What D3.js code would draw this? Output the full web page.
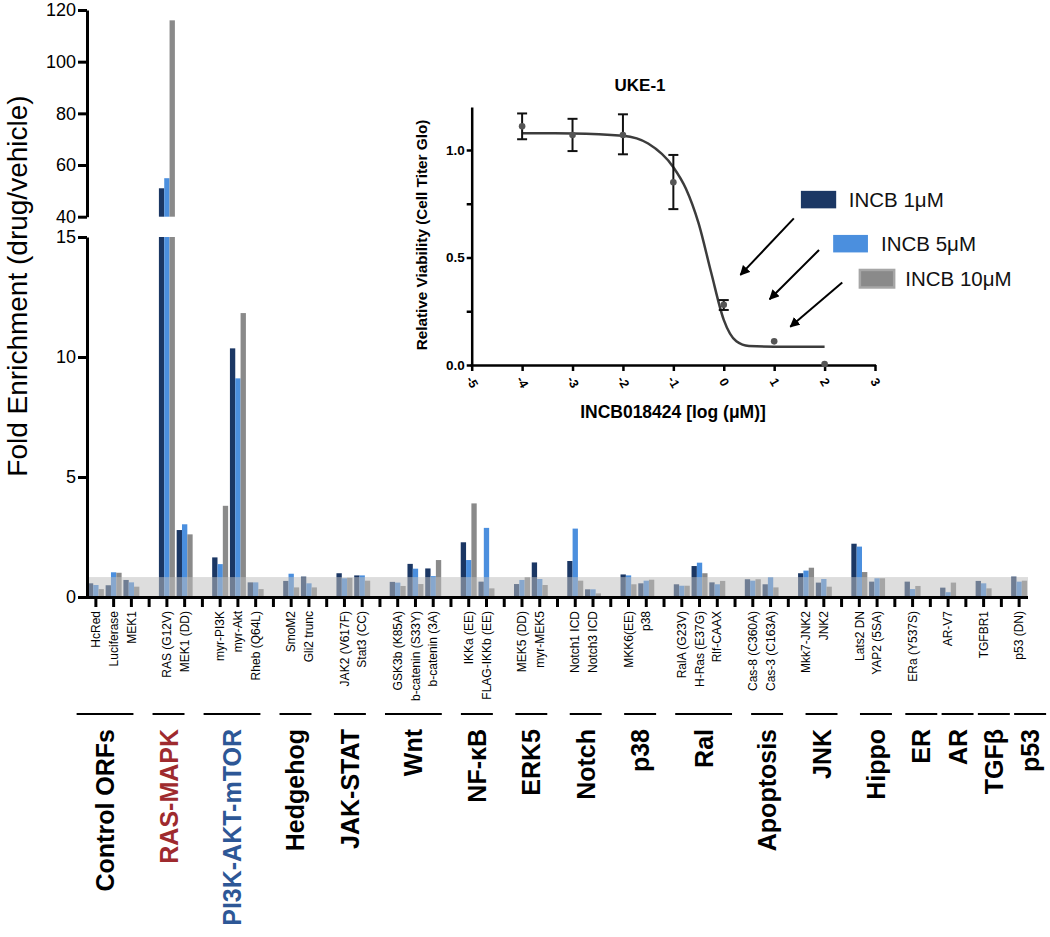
<!DOCTYPE html>
<html>
<head>
<meta charset="utf-8">
<script src="https://cdn.jsdelivr.net/npm/d3@7"></script>
<style>
  html, body { margin: 0; padding: 0; background: #fff; }
  svg { display: block; font-family: "Liberation Sans", Arial, Helvetica, sans-serif; }
</style>
</head>
<body>
<svg id="chart" width="1050" height="937"></svg>
<script>
// ---------------- DATA ----------------
const orfs = ["HcRed","Luciferase","MEK1","RAS (G12V)","MEK1 (DD)","myr-PI3K","myr-Akt","Rheb (Q64L)",
  "SmoM2","Gli2 trunc","JAK2 (V617F)","Stat3 (CC)","GSK3b (K85A)","b-catenin (S33Y)","b-catenin (3A)",
  "IKKa (EE)","FLAG-IKKb (EE)","MEK5 (DD)","myr-MEK5","Notch1 ICD","Notch3 ICD","MKK6(EE)","p38",
  "RalA (G23V)","H-Ras (E37G)","Rlf-CAAX","Cas-8 (C360A)","Cas-3 (C163A)","Mkk7-JNK2","JNK2",
  "Lats2 DN","YAP2 (5SA)","ERa (Y537S)","AR-V7","TGFBR1","p53 (DN)"];
const pathways = ["Control ORFs","RAS-MAPK","PI3K-AKT-mTOR","Hedgehog","JAK-STAT","Wnt","NF-κB","ERK5",
  "Notch","p38","Ral","Apoptosis","JNK","Hippo","ER","AR","TGFβ","p53"];
const pathwaySizes = [3,2,3,2,2,3,2,2,2,2,3,2,2,2,1,1,1,1];
const pathwayColors = {"RAS-MAPK":"#9e2a2e","PI3K-AKT-mTOR":"#2d5796"};

const seriesNames = ["INCB 1μM","INCB 5μM","INCB 10μM"];
const inc1  = [0.57,0.49,0.71, 51.0,2.79, 1.65,10.36,0.61, 0.67,0.85, 0.99,0.90, 0.63,1.38,1.19,
  2.28,0.64, 0.54,1.44, 1.50,0.32, 0.94,0.57, 0.53,1.29,0.61, 0.74,0.53, 0.99,0.60, 2.22,0.64, 0.64, 0.39, 0.67, 0.85];
const inc5  = [0.50,1.03,0.61, 54.9,3.03, 1.37,9.11,0.61, 0.97,0.57, 0.78,0.90, 0.60,1.18,0.87,
  1.54,2.88, 0.71,0.75, 2.85,0.32, 0.90,0.68, 0.47,1.43,0.53, 0.68,0.82, 1.10,0.75, 2.10,0.78, 0.33, 0.20, 0.57, 0.64];
const inc10 = [0.33,1.01,0.43, 116,2.61, 3.80,11.83,0.33, 0.40,0.40, 0.80,0.68, 0.46,0.54,1.54,
  3.90,0.36, 0.82,0.50, 0.68,0.15, 0.53,0.72, 0.47,0.99,0.67, 0.74,0.40, 1.22,0.43, 1.04,0.78, 0.46, 0.60, 0.36, 0.68];
const bandThreshold = 0.83;

const yTicksLow = [0,5,10,15];
const yTicksHigh = [40,60,80,100,120];

// inset dose-response (UKE-1)
const doseLog  = [-4,-3,-2,-1,0,1,2];
const viability = [1.11,1.07,1.07,0.85,0.28,0.11,0.005];
const errLow  = [1.05,0.995,0.98,0.725,0.256,null,null];
const errHigh = [1.17,1.145,1.166,0.977,0.302,null,null];
const fitX = [-4,-3,-2,-1.5,-1,-0.75,-0.5,-0.25,0,0.25,0.5,1,2];
const fitY = [1.078,1.077,1.066,1.03,0.92,0.82,0.66,0.43,0.21,0.11,0.088,0.085,0.085];
const insetXTicks = [-5,-4,-3,-2,-1,0,1,2,3];
const insetYTicks = [0,0.25,0.5,0.75,1.0];
const insetYLabels = [0,0.5,1.0];

// ---------------- LAYOUT ----------------
const colors = ["#1b3764","#4b8fde","#8a8a8a"];
const font = '"Liberation Sans", Arial, Helvetica, sans-serif';
const svg = d3.select("#chart");

// build slots with gaps between pathways
const slots = [];
{
  let k = 0;
  pathwaySizes.forEach((n, gi) => {
    for (let j = 0; j < n; j++) { slots.push(orfs[k]); k++; }
    if (gi < pathwaySizes.length - 1) slots.push("__gap" + gi);
  });
}

const x = d3.scaleBand().domain(slots).range([87, 1028]).paddingInner(0.1).paddingOuter(0.05);
const xs = d3.scaleBand().domain(seriesNames).range([0, x.bandwidth()]);
const yLow = d3.scaleLinear().domain([0, 15]).range([597, 237]);
const yHigh = d3.scaleLinear().domain([40, 120]).range([216.7, 10]);

const bars = [];
const allSeries = [inc1, inc5, inc10];
orfs.forEach((name, i) => {
  seriesNames.forEach((s, si) => bars.push({name, s, si, v: allSeries[si][i]}));
});

const gBars = svg.append("g");
bars.forEach(b => {
  const bx = x(b.name) + xs(b.s);
  const w = xs.bandwidth();
  if (b.v <= 15) {
    gBars.append("rect").attr("x", bx).attr("width", w)
      .attr("y", yLow(b.v)).attr("height", yLow(0) - yLow(b.v)).attr("fill", colors[b.si]);
  } else {
    gBars.append("rect").attr("x", bx).attr("width", w)
      .attr("y", yLow(15)).attr("height", yLow(0) - yLow(15)).attr("fill", colors[b.si]);
    gBars.append("rect").attr("x", bx).attr("width", w)
      .attr("y", yHigh(b.v)).attr("height", yHigh(40) - yHigh(b.v)).attr("fill", colors[b.si]);
  }
});

// gray threshold band over bars
svg.append("rect").attr("x", 87).attr("width", 1028 - 87)
  .attr("y", yLow(bandThreshold)).attr("height", yLow(0) - yLow(bandThreshold))
  .attr("fill", "#bdbdbd").attr("opacity", 0.52);

// y axes (broken)
function styleAxis(g, sw, fs) {
  g.select(".domain").attr("stroke", "#000").attr("stroke-width", sw);
  g.selectAll(".tick line").attr("stroke", "#000").attr("stroke-width", sw);
  g.selectAll(".tick text").attr("fill", "#000").style("font-family", font).style("font-size", fs + "px");
}
const gyl = svg.append("g").attr("transform", "translate(87,0)")
  .call(d3.axisLeft(yLow).tickValues(yTicksLow).tickSize(9).tickSizeOuter(0).tickPadding(2));
styleAxis(gyl, 3, 18);
const gyh = svg.append("g").attr("transform", "translate(87,0)")
  .call(d3.axisLeft(yHigh).tickValues(yTicksHigh).tickSize(9).tickSizeOuter(0).tickPadding(2));
styleAxis(gyh, 3, 18);

// x axis
const gx = svg.append("g").attr("transform", "translate(0,597)")
  .call(d3.axisBottom(x).tickSize(10).tickSizeOuter(0).tickFormat(d => d.startsWith("__gap") ? "" : d));
styleAxis(gx, 3, 12);
gx.select(".domain").attr("d", "M85.5,0.5H1028");
gx.selectAll(".tick text")
  .attr("transform", "rotate(-90)")
  .attr("text-anchor", "end")
  .attr("x", -14).attr("y", 0).attr("dy", "0.35em");

// y axis title
svg.append("text")
  .attr("transform", "translate(27,286) rotate(-90)")
  .attr("text-anchor", "middle")
  .style("font-family", font).style("font-size", "28px").attr("fill", "#000")
  .text("Fold Enrichment (drug/vehicle)");

// pathway group labels
const groupCenters = [];
{
  let k = 0;
  pathwaySizes.forEach((n) => {
    const a = x(orfs[k]) + x.bandwidth() / 2, b = x(orfs[k + n - 1]) + x.bandwidth() / 2;
    groupCenters.push((a + b) / 2);
    k += n;
  });
}
const labelX = d3.scaleLinear()
  .domain([groupCenters[0], groupCenters[groupCenters.length - 1]])
  .range([groupCenters[0] - 8.6, groupCenters[groupCenters.length - 1] + 11]);
const step = x.step();
pathways.forEach((p, gi) => {
  const cx = labelX(groupCenters[gi]);
  const n = Math.max(pathwaySizes[gi], 2);
  const w = step * (1.8 + 1.4 * (n - 2));
  svg.append("line").attr("x1", cx - w / 2).attr("x2", cx + w / 2)
    .attr("y1", 714).attr("y2", 714).attr("stroke", "#000").attr("stroke-width", 2);
  svg.append("text")
    .attr("transform", `translate(${cx},729) rotate(-90)`)
    .attr("text-anchor", "end").attr("dy", "0.36em")
    .style("font-family", font).style("font-size", "25px").style("font-weight", "bold")
    .attr("fill", pathwayColors[p] || "#000")
    .text(p);
});

// ---------------- INSET ----------------
const xi = d3.scaleLinear().domain([-5, 3]).range([471.7, 875]);
const yi = d3.scaleLinear().domain([0, 1.2]).range([365, 107]);

const giy = svg.append("g").attr("transform", "translate(471.7,0)")
  .call(d3.axisLeft(yi).tickValues(insetYTicks).tickSize(5).tickSizeOuter(0).tickPadding(2)
    .tickFormat(d => insetYLabels.includes(d) ? d3.format(".1f")(d) : ""));
styleAxis(giy, 2.5, 13.5);
giy.selectAll(".tick text").style("font-weight", "bold");

const gix = svg.append("g").attr("transform", "translate(0,365)")
  .call(d3.axisBottom(xi).tickValues(insetXTicks).tickSize(6).tickSizeOuter(0).tickFormat(d => String(d)));
styleAxis(gix, 2.5, 12.5);
gix.select(".domain").attr("d", "M470.5,0.5H876");
gix.selectAll(".tick text").style("font-weight", "bold")
  .attr("transform", "translate(0,17) rotate(60)")
  .attr("text-anchor", "middle").attr("y", 0).attr("dy", "0.35em").attr("x", 0);

svg.append("text").attr("x", 640).attr("y", 91)
  .attr("text-anchor", "middle").style("font-family", font)
  .style("font-size", "17px").style("font-weight", "bold").text("UKE-1");
svg.append("text").attr("x", 673).attr("y", 418)
  .attr("text-anchor", "middle").style("font-family", font)
  .style("font-size", "17.5px").style("font-weight", "bold").text("INCB018424 [log (μM)]");
svg.append("text").attr("transform", "translate(427,235) rotate(-90)")
  .attr("text-anchor", "middle").style("font-family", font)
  .style("font-size", "15.3px").style("font-weight", "bold").text("Relative Viability (Cell Titer Glo)");

// fitted curve
const fitPts = fitX.map((v, i) => [v, fitY[i]]);
svg.append("path")
  .attr("d", d3.line().x(d => xi(d[0])).y(d => yi(d[1])).curve(d3.curveMonotoneX)(fitPts))
  .attr("fill", "none").attr("stroke", "#3c3c3c").attr("stroke-width", 2.5);

// error bars
doseLog.forEach((d, i) => {
  if (errLow[i] == null) return;
  const cx = xi(d);
  const g = svg.append("g").attr("stroke", "#111").attr("stroke-width", 2);
  g.append("line").attr("x1", cx).attr("x2", cx).attr("y1", yi(errLow[i])).attr("y2", yi(errHigh[i]));
  g.append("line").attr("x1", cx - 5).attr("x2", cx + 5).attr("y1", yi(errLow[i])).attr("y2", yi(errLow[i]));
  g.append("line").attr("x1", cx - 5).attr("x2", cx + 5).attr("y1", yi(errHigh[i])).attr("y2", yi(errHigh[i]));
});
svg.append("g").selectAll("circle").data(doseLog).join("circle")
  .attr("cx", d => xi(d)).attr("cy", (d, i) => yi(viability[i])).attr("r", 3.3)
  .attr("fill", "#555");

// legend + arrows (annotation placed in inset coordinates)
const legendPos = [
  {x0: 1.53, x1: 2.23, yTop: 0.81, tx: 2.48},
  {x0: 2.17, x1: 2.86, yTop: 0.605, tx: 3.12},
  {x0: 2.70, x1: 3.38, yTop: 0.442, tx: 3.60}
];
const legendH = 17.5;
seriesNames.forEach((s, i) => {
  const p = legendPos[i];
  svg.append("rect").attr("x", xi(p.x0)).attr("y", yi(p.yTop))
    .attr("width", xi(p.x1) - xi(p.x0)).attr("height", legendH)
    .attr("fill", colors[i])
    .attr("stroke", i === 2 ? "#a6a6a6" : "none").attr("stroke-width", i === 2 ? 2.5 : 0);
  svg.append("text").attr("x", xi(p.tx)).attr("y", yi(p.yTop) + legendH / 2)
    .attr("dy", "0.36em").style("font-family", font).style("font-size", "20.5px")
    .attr("fill", "#111").text(s);
});

svg.append("defs").append("marker").attr("id", "ah")
  .attr("viewBox", "0 0 10 10").attr("refX", 9).attr("refY", 5)
  .attr("markerWidth", 5).attr("markerHeight", 5).attr("orient", "auto")
  .append("path").attr("d", "M0,0L10,5L0,10z").attr("fill", "#000");
const arrows = [
  [1.39, 0.682, 0.33, 0.419],
  [1.89, 0.535, 0.91, 0.306],
  [2.35, 0.384, 1.32, 0.178]
];
arrows.forEach(a => {
  svg.append("line").attr("x1", xi(a[0])).attr("y1", yi(a[1]))
    .attr("x2", xi(a[2])).attr("y2", yi(a[3]))
    .attr("stroke", "#000").attr("stroke-width", 2).attr("marker-end", "url(#ah)");
});
</script>
</body>
</html>
